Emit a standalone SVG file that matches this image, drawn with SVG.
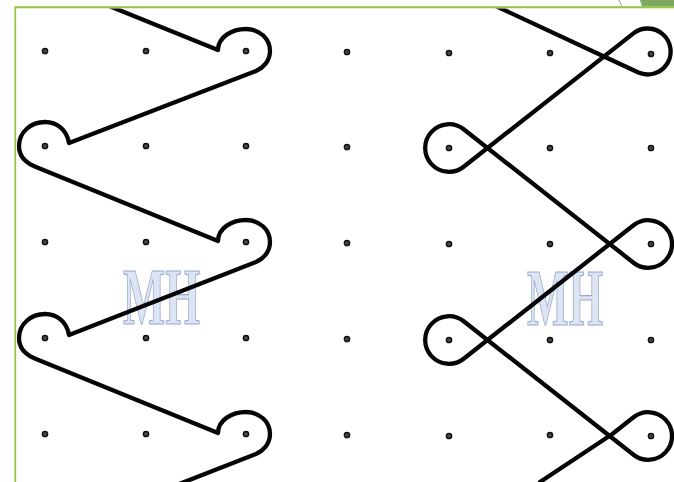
<svg xmlns="http://www.w3.org/2000/svg" width="674" height="482" viewBox="0 0 674 482">
<style>
.dot{fill:#4a4a4a;stroke:#111111;stroke-width:1.5}
.wm{font-family:"Liberation Serif","DejaVu Serif",serif;font-weight:bold;font-size:80px;fill:#dde5f3;stroke:#98a9cf;stroke-width:1.2}
.curve{fill:none;stroke:#050505;stroke-width:4.3;stroke-linejoin:round;stroke-linecap:round}
.frame{stroke:#8fc73e;fill:none}
</style>
<defs>
<clipPath id="inner"><rect x="16.5" y="8.4" width="660" height="476"/></clipPath>
</defs>
<rect width="674" height="482" fill="#ffffff"/>
<g id="page-corner">
<path d="M619 0 Q621 4 622 7" stroke="#9a9a9a" stroke-width="1" fill="none"/>
<path d="M640 0 L674 0 L674 6.5 L642 6.5 Z" fill="#7fa862"/>
</g>
<g id="frame">
<line class="frame" x1="15" y1="7.3" x2="674" y2="7.3" stroke-width="2"/>
<line class="frame" x1="15.3" y1="6.5" x2="15.3" y2="482" stroke-width="1.7"/>
</g>
<g id="watermarks">
<text class="wm" x="123" y="324" textLength="77" lengthAdjust="spacingAndGlyphs">MH</text>
<text class="wm" x="527" y="325" textLength="76" lengthAdjust="spacingAndGlyphs">MH</text>
</g>
<g id="dots">
<circle class="dot" cx="45" cy="51" r="2.6"/><circle class="dot" cx="146" cy="51" r="2.6"/><circle class="dot" cx="246" cy="51" r="2.6"/><circle class="dot" cx="347" cy="52" r="2.6"/><circle class="dot" cx="449" cy="53" r="2.6"/><circle class="dot" cx="550" cy="53" r="2.6"/><circle class="dot" cx="651" cy="54" r="2.6"/>
<circle class="dot" cx="45" cy="146" r="2.6"/><circle class="dot" cx="146" cy="146" r="2.6"/><circle class="dot" cx="246" cy="146" r="2.6"/><circle class="dot" cx="347" cy="147" r="2.6"/><circle class="dot" cx="449" cy="148" r="2.6"/><circle class="dot" cx="550" cy="148" r="2.6"/><circle class="dot" cx="651" cy="148" r="2.6"/>
<circle class="dot" cx="45" cy="242" r="2.6"/><circle class="dot" cx="146" cy="242" r="2.6"/><circle class="dot" cx="246" cy="242" r="2.6"/><circle class="dot" cx="347" cy="243" r="2.6"/><circle class="dot" cx="449" cy="244" r="2.6"/><circle class="dot" cx="550" cy="244" r="2.6"/><circle class="dot" cx="651" cy="244" r="2.6"/>
<circle class="dot" cx="45" cy="338" r="2.6"/><circle class="dot" cx="146" cy="338" r="2.6"/><circle class="dot" cx="246" cy="338" r="2.6"/><circle class="dot" cx="347" cy="339" r="2.6"/><circle class="dot" cx="449" cy="340" r="2.6"/><circle class="dot" cx="550" cy="340" r="2.6"/><circle class="dot" cx="651" cy="340" r="2.6"/>
<circle class="dot" cx="45" cy="434" r="2.6"/><circle class="dot" cx="146" cy="434" r="2.6"/><circle class="dot" cx="246" cy="434" r="2.6"/><circle class="dot" cx="347" cy="435" r="2.6"/><circle class="dot" cx="449" cy="436" r="2.6"/><circle class="dot" cx="550" cy="435" r="2.6"/><circle class="dot" cx="651" cy="436" r="2.6"/>
</g>
<g id="curves" clip-path="url(#inner)">
<path id="left-curve" class="curve" d="M36 -23.5 L218 50 C218 37 232 29 246 29 C260 29 270 39 270 51 C270 61 263 68 256 71 L69 143 C67 130 57 122 45 122 C31 122 19 132 19 146 C19 157 27 163.5 36 167 L218 241 C218 228 232 220 246 220 C260 220 270 230 270 242 C270 252 263 259 256 262 L69 335 C67 322 57 314 45 314 C31 314 19 324 19 338 C19 349 27 355.5 36 359 L218 433 C218 420 232 412 246 412 C260 412 270 422 270 434 C270 444 263 451 256 454 L69 527"/>
<path id="right-curve" class="curve" d="M482.8 0 L604 56.5 L638.4 72.55 A23 23 0 1 0 633.4 33.4 L463.7 166.7 A23.8 23.8 0 1 1 463.7 129.3 L633.5 262.7 A23.8 23.8 0 1 0 633.5 225.3 L463.7 358.7 A23.8 23.8 0 1 1 463.7 321.3 L633.5 454.7 A23.8 23.8 0 1 0 633.5 417.3 L612 434.2 L540 482"/>
</g>
</svg>
